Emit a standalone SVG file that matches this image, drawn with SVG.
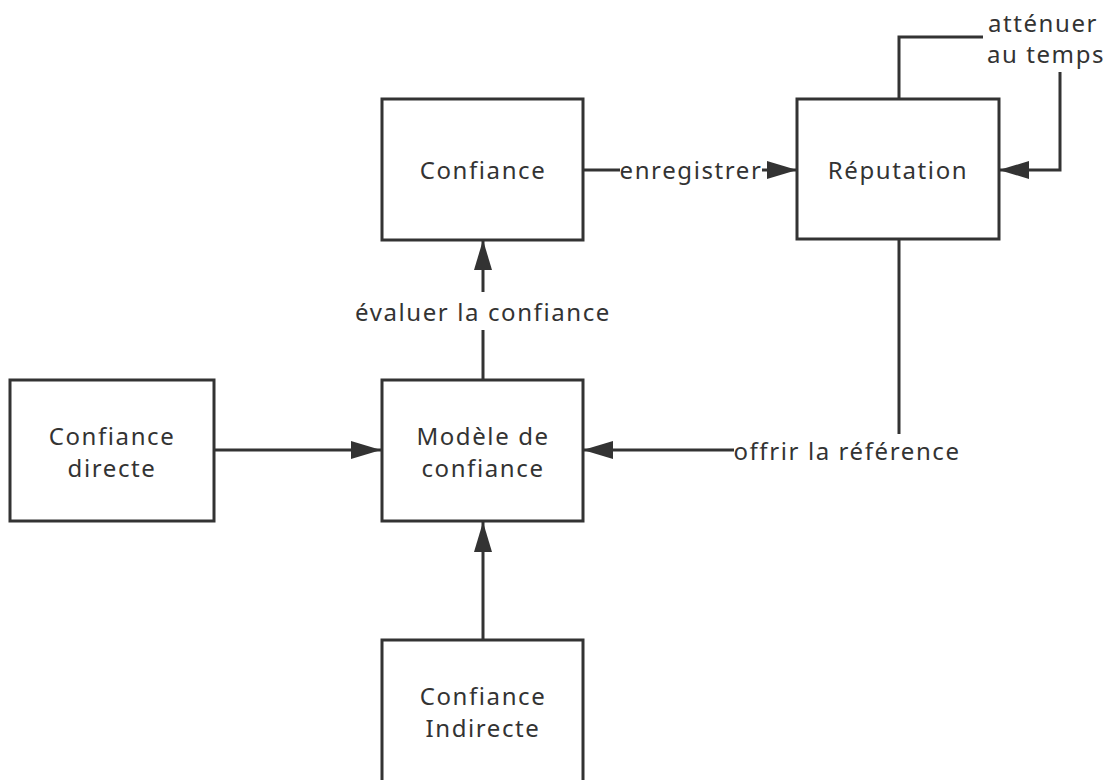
<svg xmlns="http://www.w3.org/2000/svg" width="1113" height="780" viewBox="0 0 1113 780">
  <style>
    .box { fill: #ffffff; stroke: #333333; stroke-width: 3; }
    .line { fill: none; stroke: #333333; stroke-width: 3; }
    .t { font-family: "Noto Sans", "Open Sans", sans-serif; font-size: 24px; fill: #333333; text-anchor: middle; letter-spacing: 1.6px; }
    .bg { fill: #ffffff; }
  </style>
  <defs>
    <marker id="arrow" markerUnits="userSpaceOnUse" markerWidth="32" markerHeight="24" refX="30" refY="12" orient="auto">
      <path d="M0,3 L30,12 L0,21 Z" fill="#333333"/>
    </marker>
  </defs>
  <rect width="1113" height="780" fill="#ffffff"/>

  <g id="connectors">
    <path class="line" d="M214,450 L381,450" marker-end="url(#arrow)"/>
    <path class="line" d="M483,640 L483,522" marker-end="url(#arrow)"/>
    <path class="line" d="M483,380 L483,240" marker-end="url(#arrow)"/>
    <path class="line" d="M583,170 L797,170" marker-end="url(#arrow)"/>
    <path class="line" d="M899,239 L899,450 L583,450" marker-end="url(#arrow)"/>
    <path class="line" d="M899,99 L899,37 L1060,37 L1060,170 L999,170" marker-end="url(#arrow)"/>
    <rect class="bg" x="352" y="292" width="262" height="38"/>
    <text class="t" x="483" y="321">évaluer la confiance</text>
    <rect class="bg" x="620" y="155" width="142" height="32"/>
    <text class="t" x="691" y="179">enregistrer</text>
    <rect class="bg" x="734" y="434" width="228" height="34"/>
    <text class="t" x="847" y="460">offrir la référence</text>
    <rect class="bg" x="983" y="6" width="128" height="66"/>
    <text class="t" x="1043" y="32">atténuer</text>
    <text class="t" x="1046" y="63">au temps</text>
  </g>

  <g id="confiance">
    <rect class="box" x="382" y="99" width="201" height="141"/>
    <text class="t" x="483" y="179">Confiance</text>
  </g>
  <g id="reputation">
    <rect class="box" x="797" y="99" width="202" height="140"/>
    <text class="t" x="898" y="179">Réputation</text>
  </g>
  <g id="confiance-directe">
    <rect class="box" x="10" y="380" width="204" height="141"/>
    <text class="t" x="112" y="445">Confiance</text>
    <text class="t" x="112" y="477">directe</text>
  </g>
  <g id="modele">
    <rect class="box" x="382" y="380" width="201" height="141"/>
    <text class="t" x="483" y="445">Modèle de</text>
    <text class="t" x="483" y="477">confiance</text>
  </g>
  <g id="confiance-indirecte">
    <rect class="box" x="382" y="640" width="201" height="150"/>
    <text class="t" x="483" y="705">Confiance</text>
    <text class="t" x="483" y="737">Indirecte</text>
  </g>
</svg>
